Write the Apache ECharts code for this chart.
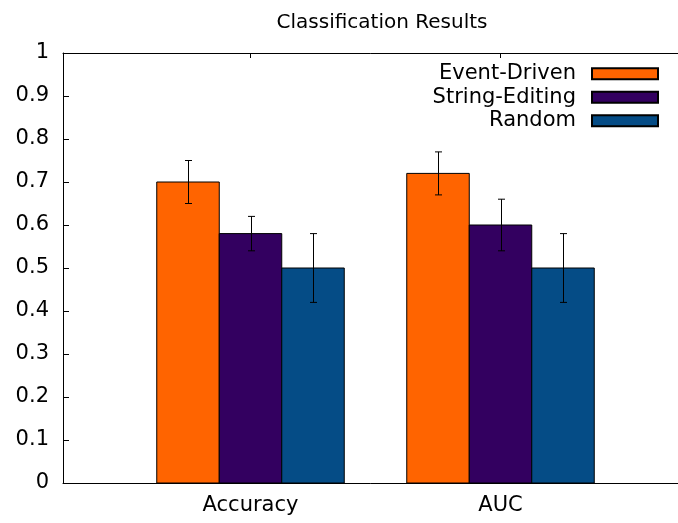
<!DOCTYPE html>
<html>
<head>
<meta charset="utf-8">
<script src="https://cdn.jsdelivr.net/npm/echarts@6/dist/echarts.min.js"></script>
<style>html,body{margin:0;padding:0;background:#fff}#c{width:678px;height:523px}</style>
</head>
<body>
<div id="c"></div>
<script>
var categories = ['Accuracy', 'AUC'];
var seriesNames = ['Event-Driven', 'String-Editing', 'Random'];
var colors = ['#ff6400', '#330060', '#054c86'];
var eventDriven = [0.70, 0.72];
var eventDrivenLow = [0.65, 0.67];
var eventDrivenHigh = [0.75, 0.77];
var stringEditing = [0.58, 0.60];
var stringEditingLow = [0.54, 0.54];
var stringEditingHigh = [0.62, 0.66];
var random = [0.50, 0.50];
var randomLow = [0.42, 0.42];
var randomHigh = [0.58, 0.58];
var yTicks = [0, 0.1, 0.2, 0.3, 0.4, 0.5, 0.6, 0.7, 0.8, 0.9, 1];

var values = [eventDriven, stringEditing, random];
var lows = [eventDrivenLow, stringEditingLow, randomLow];
var highs = [eventDrivenHigh, stringEditingHigh, randomHigh];

var FONT = 'DejaVu Sans';
var BW = 0.25;

function makeSeries(j) {
  var data = categories.map(function (c, i) {
    return [i, values[j][i], lows[j][i], highs[j][i]];
  });
  return {
    name: seriesNames[j],
    type: 'custom',
    itemStyle: { color: colors[j], borderColor: '#000', borderWidth: 1 },
    data: data,
    encode: { x: 0, y: [1, 2, 3] },
    renderItem: function (params, api) {
      var x = api.value(0) + (j - 1) * BW;
      var v = api.value(1), lo = api.value(2), hi = api.value(3);
      var p0 = api.coord([x - BW / 2, 0]);
      var p1 = api.coord([x + BW / 2, v]);
      var pl = api.coord([x, lo]);
      var ph = api.coord([x, hi]);
      var cx = Math.round(pl[0]) + 0.5;
      var cap = 3.5;
      return {
        type: 'group',
        children: [
          { type: 'rect', shape: { x: p0[0], y: p1[1], width: p1[0] - p0[0], height: p0[1] - p1[1] },
            style: { fill: colors[j], stroke: '#000', lineWidth: 1 } },
          { type: 'line', shape: { x1: cx, y1: pl[1], x2: cx, y2: ph[1] }, style: { stroke: '#000', lineWidth: 1 } },
          { type: 'line', shape: { x1: cx - cap, y1: pl[1], x2: cx + cap, y2: pl[1] }, style: { stroke: '#000', lineWidth: 1 } },
          { type: 'line', shape: { x1: cx - cap, y1: ph[1], x2: cx + cap, y2: ph[1] }, style: { stroke: '#000', lineWidth: 1 } }
        ]
      };
    }
  };
}

var chart = echarts.init(document.getElementById('c'), null, { renderer: 'canvas' });
chart.setOption({
  animation: false,
  backgroundColor: '#fff',
  title: {
    text: 'Classification Results',
    left: 377, top: 8, textAlign: 'center',
    textStyle: { fontFamily: FONT, fontSize: 20, fontWeight: 'normal', color: '#000' }
  },
  legend: {
    orient: 'vertical',
    right: 19, top: 62,
    align: 'right',
    itemWidth: 66, itemHeight: 11,
    itemGap: 0,
    padding: 0,
    icon: 'rect',
    textStyle: { fontFamily: FONT, fontSize: 21, color: '#000', lineHeight: 23.5, padding: [0, 11, 0, 0] },
    data: seriesNames
  },
  grid: { left: 63, width: 625, top: 53, bottom: 40, containLabel: false, outerBoundsMode: 'none' },
  xAxis: [{
    type: 'value', min: -0.75, max: 1.75,
    axisLine: { show: true, onZero: false, lineStyle: { color: '#000', width: 1 } },
    axisTick: { show: true, inside: true, length: 5, customValues: [0, 1], lineStyle: { color: '#000' } },
    axisLabel: {
      customValues: [0, 1], margin: 12,
      fontFamily: FONT, fontSize: 21, color: '#000',
      formatter: function (v) { return categories[Math.round(v)]; }
    },
    splitLine: { show: false }
  }, {
    type: 'value', min: -0.75, max: 1.75, position: 'top',
    axisLine: { show: true, onZero: false, lineStyle: { color: '#000', width: 1 } },
    axisTick: { show: true, inside: true, length: 5, customValues: [0, 1], lineStyle: { color: '#000' } },
    axisLabel: { show: false },
    splitLine: { show: false }
  }],
  yAxis: {
    type: 'value', min: 0, max: 1, interval: 0.1,
    axisLine: { show: true, onZero: false, lineStyle: { color: '#000', width: 1 } },
    axisTick: { show: true, inside: true, length: 6, lineStyle: { color: '#000' } },
    axisLabel: {
      margin: 14, fontFamily: FONT, fontSize: 21, color: '#000',
      formatter: function (v) {
        var t = yTicks.filter(function (k) { return Math.abs(k - v) < 1e-9; })[0];
        return t === undefined ? '' : String(t);
      }
    },
    splitLine: { show: false }
  },
  series: [makeSeries(0), makeSeries(1), makeSeries(2)]
});
</script>
</body>
</html>
